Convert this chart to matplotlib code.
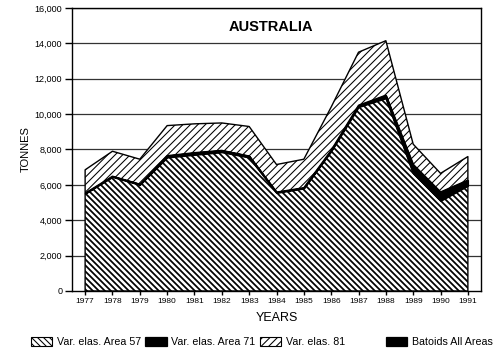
import numpy as np
import matplotlib
matplotlib.use("Agg")
import matplotlib.pyplot as plt
from matplotlib.patches import Patch

plt.rcParams['font.family'] = ['Liberation Sans', 'DejaVu Sans']

years = [1977, 1978, 1979, 1980, 1981, 1982, 1983, 1984, 1985, 1986, 1987, 1988, 1989, 1990, 1991]
area57 = [5500, 6450, 6000, 7550, 7700, 7850, 7550, 5550, 5800, 7900, 10400, 10900, 6650, 5100, 5950]
area71 = [30, 40, 40, 100, 120, 100, 80, 40, 40, 60, 100, 120, 200, 200, 120]
batoids = [0, 0, 0, 0, 0, 0, 0, 0, 0, 0, 0, 50, 300, 300, 200]
var81 = [1320, 1410, 1410, 1700, 1630, 1550, 1670, 1560, 1610, 2440, 3000, 3080, 1150, 1050, 1330]

y_ticks = [0, 2000, 4000, 6000, 8000, 10000, 12000, 14000, 16000]

# dpi 90 -> hatch cell of 90 px, so 5 backslashes give clean 3 px stripes
DPI = 90
S = 100 / DPI
DENSE = '\\' * 5
LIGHT = '/' * 4
DENSE_LW = 1.4
LIGHT_LW = 0.85


def hatch_lw(artist, lw):
    if hasattr(artist, 'set_hatch_linewidth'):
        artist.set_hatch_linewidth(lw)
    return artist


x = np.array(years)
s1 = np.array(area57)
s2 = s1 + np.array(area71)
s3 = s2 + np.array(batoids)
s4 = s3 + np.array(var81)

fig = plt.figure(figsize=(500 / DPI, 356 / DPI), dpi=DPI)
ax = fig.add_axes([0.144, 0.1826, 0.818, 0.795])

for yt in y_ticks[1:]:
    ax.axhline(yt, color='#333333', lw=0.9 * S, zorder=0)

plt.rcParams['hatch.linewidth'] = DENSE_LW
p57 = ax.fill_between(x, 0, s1, facecolor='white', edgecolor='black', hatch=DENSE, lw=1.0 * S, zorder=2)
hatch_lw(p57, DENSE_LW)
ax.fill_between(x, s1, s2, facecolor='black', edgecolor='black', lw=1.0 * S, zorder=3)
ax.fill_between(x, s2, s3, facecolor='black', edgecolor='black', lw=1.0 * S, zorder=3)
plt.rcParams['hatch.linewidth'] = LIGHT_LW
p81 = ax.fill_between(x, s3, s4, facecolor='white', edgecolor='black', hatch=LIGHT, lw=1.0 * S, zorder=2)
hatch_lw(p81, LIGHT_LW)

ax.set_xlim(1976.52, 1991.48)
ax.set_ylim(0, 16000)
ax.set_xticks(years)
ax.set_xticklabels([str(y) for y in years], fontsize=6 * S)
ax.set_yticks(y_ticks)
ax.set_yticklabels([f"{v:,}" for v in y_ticks], fontsize=6.5 * S)
ax.tick_params(axis='y', length=5 * S, width=S, pad=2 * S)
ax.tick_params(axis='x', length=3 * S, width=S, pad=2 * S)
for sp in ax.spines.values():
    sp.set_linewidth(S)

ax.set_xlabel("YEARS", fontsize=9 * S, labelpad=5 * S)
ax.set_ylabel("TONNES", fontsize=8 * S, labelpad=3 * S)
ax.text(0.487, 0.933, "AUSTRALIA", transform=ax.transAxes, ha='center', va='center',
        fontsize=10.5 * S, fontweight='bold')

plt.rcParams['hatch.linewidth'] = DENSE_LW
h57 = hatch_lw(Patch(facecolor='white', edgecolor='black', hatch=DENSE, lw=0.8 * S), DENSE_LW)
h71 = Patch(facecolor='black', edgecolor='black')
plt.rcParams['hatch.linewidth'] = LIGHT_LW
h81 = hatch_lw(Patch(facecolor='white', edgecolor='black', hatch=LIGHT, lw=0.8 * S), LIGHT_LW)
hbat = Patch(facecolor='black', edgecolor='black')

fig.legend([h57, h71, h81], ["Var. elas. Area 57", "Var. elas. Area 71", "Var. elas. 81"],
           loc='center left', bbox_to_anchor=(0.051, 0.04), ncol=3, frameon=False,
           fontsize=7.7 * S, handlelength=2.0, handleheight=1.0, handletextpad=0.4, columnspacing=0.45,
           borderpad=0)
fig.legend([hbat], ["Batoids All Areas"],
           loc='center left', bbox_to_anchor=(0.761, 0.04), frameon=False,
           fontsize=7.7 * S, handlelength=2.0, handleheight=1.0, handletextpad=0.4, borderpad=0)

fig.savefig("out.png", dpi=DPI)
